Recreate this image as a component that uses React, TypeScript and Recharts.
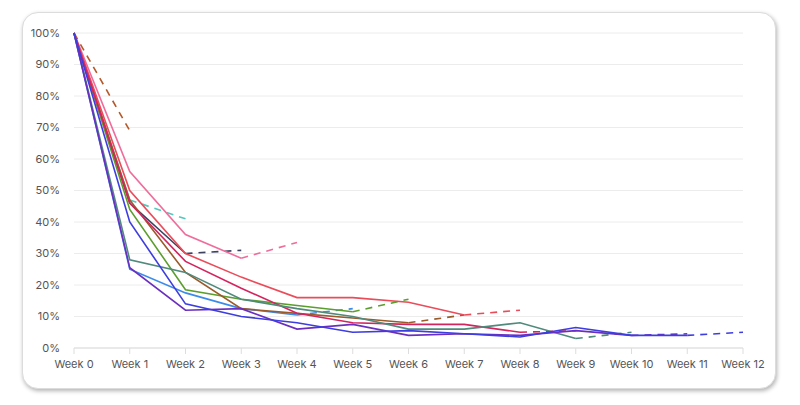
import { LineChart, Line, XAxis, YAxis, CartesianGrid } from "recharts";

const WEEKS = [
  "Week 0", "Week 1", "Week 2", "Week 3", "Week 4", "Week 5", "Week 6",
  "Week 7", "Week 8", "Week 9", "Week 10", "Week 11", "Week 12",
];

const Y_TICKS = [0, 10, 20, 30, 40, 50, 60, 70, 80, 90, 100];

// retention per cohort, the last step is still in progress (dashed)
const cohort1 = [100, 40, 14, 10, 8, 5, 5.5, 4.5, 3.5, 6.5, 4, 4, 5];
const cohort2 = [100, 25.5, 12, 12.5, 6, 7.5, 4, 4.5, 4, 5.5, 4, 4.5];
const cohort3 = [100, 28, 24, 15.5, 12.5, 10, 6, 6, 8, 3, 5];
const cohort4 = [100, 46, 27.5, 19, 11, 8, 7.5, 7.5, 5, 5.5];
const cohort5 = [100, 50, 30, 22.5, 16, 16, 14.5, 10.5, 12];
const cohort6 = [100, 47, 24, 12.5, 11, 9.5, 8, 10.5];
const cohort7 = [100, 44, 18.5, 15.5, 13.5, 11.5, 15.5];
const cohort8 = [100, 25, 17.5, 12.5, 10.5, 12.5];
const cohort9 = [100, 56, 36, 28.5, 33.5];
const cohort10 = [100, 46, 30, 31];
const cohort11 = [100, 47, 41];
const cohort12 = [100, 69];

const COHORTS = [
  { key: "c12", values: cohort12, color: "#b5582a" },
  { key: "c11", values: cohort11, color: "#52c9be" },
  { key: "c10", values: cohort10, color: "#3d4260" },
  { key: "c9", values: cohort9, color: "#f06c9b" },
  { key: "c8", values: cohort8, color: "#3b8beb" },
  { key: "c7", values: cohort7, color: "#5c9e2e" },
  { key: "c6", values: cohort6, color: "#9a5a2a" },
  { key: "c5", values: cohort5, color: "#ea4c5a" },
  { key: "c4", values: cohort4, color: "#d4245f" },
  { key: "c3", values: cohort3, color: "#4f8a7b" },
  { key: "c2", values: cohort2, color: "#6b2fbf" },
  { key: "c1", values: cohort1, color: "#3d3de0" },
];

const data = WEEKS.map((week, i) => {
  const row: Record<string, string | number | undefined> = { week };
  COHORTS.forEach(({ key, values }) => {
    const last = values.length - 1;
    row[key] = i < last ? values[i] : undefined;
    row[key + "_d"] = i === last - 1 || i === last ? values[i] : undefined;
  });
  return row;
});

const tickStyle = { fontSize: 11, fill: "#555", fontFamily: "Inter, sans-serif" };

export default function App() {
  return (
    <div style={{ position: "fixed", left: 0, top: 0, width: 800, height: 405, background: "#fff" }}>
      <div
        style={{
          position: "absolute",
          left: 22,
          top: 12,
          width: 752,
          height: 375,
          border: "1px solid #dcdcdc",
          borderRadius: 16,
          boxShadow: "1px 2px 4px rgba(0,0,0,0.3)",
          background: "#fff",
        }}
      >
        <LineChart
          width={752}
          height={375}
          data={data}
          margin={{ top: 20, right: 32, bottom: 10, left: 0 }}
        >
          <CartesianGrid vertical={false} stroke="#ececec" />
          <XAxis
            dataKey="week"
            tick={tickStyle}
            stroke="#dddddd"
            tickLine={{ stroke: "#dddddd" }}
            tickMargin={6}
            height={30}
            interval={0}
          />
          <YAxis
            domain={[0, 100]}
            ticks={Y_TICKS}
            tick={tickStyle}
            axisLine={false}
            tickLine={false}
            tickMargin={8}
            width={51}
            tickFormatter={(v: number) => `${v}%`}
          />
          {COHORTS.map(({ key, color }) => [
            <Line
              key={key}
              dataKey={key}
              stroke={color}
              strokeWidth={1.6}
              dot={false}
              isAnimationActive={false}
            />,
            <Line
              key={key + "_d"}
              dataKey={key + "_d"}
              stroke={color}
              strokeWidth={1.6}
              strokeDasharray="7 6"
              dot={false}
              isAnimationActive={false}
            />,
          ])}
        </LineChart>
      </div>
    </div>
  );
}
